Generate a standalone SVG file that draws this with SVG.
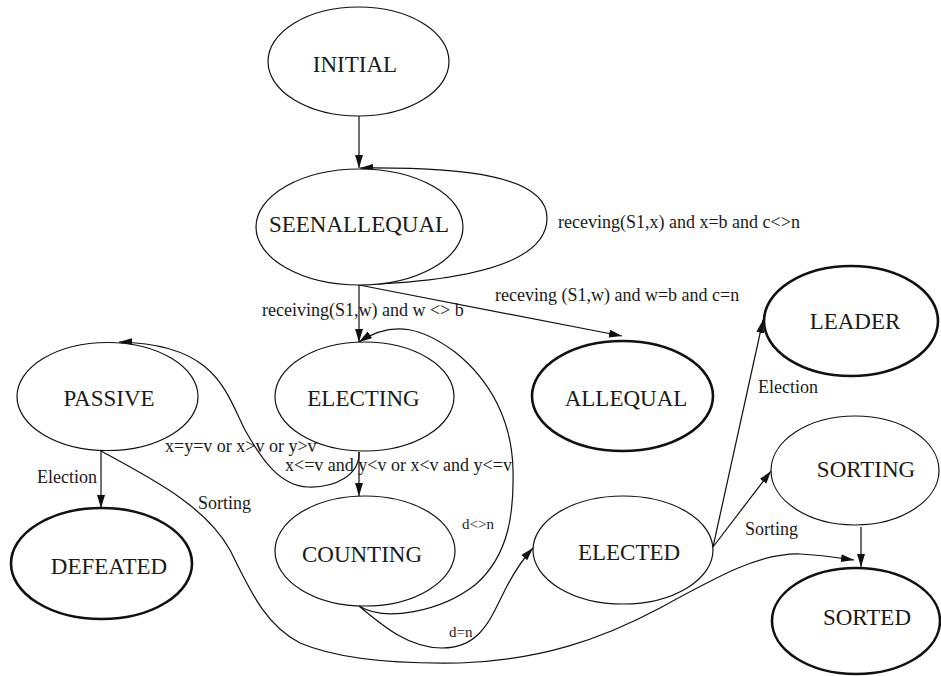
<svg xmlns="http://www.w3.org/2000/svg" width="941" height="676" viewBox="0 0 941 676">
<style>
.n{fill:#fff;stroke:#111;stroke-width:1.2}
.t{fill:#fff;stroke:#111;stroke-width:2.6}
.nt{font-family:"Liberation Serif","Times New Roman",serif;font-size:23px;fill:#1a1a1a;text-anchor:middle}
.e{fill:none;stroke:#111;stroke-width:1.2}
.l{font-family:"Liberation Serif","Times New Roman",serif;font-size:18px;fill:#1a1a1a}
.s{font-size:15px}
</style>
<defs>
<marker id="a" markerUnits="userSpaceOnUse" markerWidth="14" markerHeight="10" refX="13" refY="4" orient="auto">
<path d="M0,0 L13,4 L0,8 Z" fill="#111"/>
</marker>
</defs>
<rect width="941" height="676" fill="#fff"/>
<g id="edges">
<path class="e" marker-end="url(#a)" d="M359,116 L359,168"/>
<path class="e" marker-end="url(#a)" d="M359,285 C470,281 547,262 547,218 C547,176 465,167 360,168"/>
<path class="e" marker-end="url(#a)" d="M359,285 L359,342"/>
<path class="e" marker-end="url(#a)" d="M359,285 L622,336"/>
<path class="e" marker-end="url(#a)" d="M359,452 C360,475 335,488 308,487 C280,486 262,460 245,430 C225,390 215,344 119,342"/>
<path class="e" marker-end="url(#a)" d="M359,452 L359,496"/>
<path class="e" marker-end="url(#a)" d="M359,606 C385,622 440,612 475,585 C510,555 514,510 513,470 C512,420 490,380 455,352 C425,330 395,318 359,342"/>
<path class="e" marker-end="url(#a)" d="M359,606 C385,628 410,648 442,648 C480,648 490,620 505,590 C515,570 522,560 533,548"/>
<path class="e" marker-end="url(#a)" d="M101,451 L101,508"/>
<path class="e" marker-end="url(#a)" d="M101,451 C150,478 205,505 230,550 C250,590 265,625 300,643 C340,660 400,664 460,663 C540,660 600,640 660,608 C720,575 760,553 800,554 C820,555 840,558 854,560"/>
<path class="e" marker-end="url(#a)" d="M713,547 L763,320"/>
<path class="e" marker-end="url(#a)" d="M713,547 L771,471"/>
<path class="e" marker-end="url(#a)" d="M861,527 L861,567"/>
<text class="l" x="558" y="228">receving(S1,x) and x=b and c&lt;&gt;n</text>
<text class="l" x="262" y="316">receiving(S1,w) and w &lt;&gt; b</text>
<text class="l" x="495" y="301">receving (S1,w) and w=b and c=n</text>
<text class="l" x="165" y="452">x=y=v or x&gt;v or y&gt;v</text>
<text class="l" x="285" y="471">x&lt;=v and y&lt;v or x&lt;v and y&lt;=v</text>
<text class="l" x="37" y="483">Election</text>
<text class="l" x="198" y="509">Sorting</text>
<text class="l s" x="462" y="529">d&lt;&gt;n</text>
<text class="l s" x="449" y="637">d=n</text>
<text class="l" x="758" y="393">Election</text>
<text class="l" x="745" y="535">Sorting</text>
</g>
<g id="INITIAL"><ellipse class="n" cx="358.5" cy="61.5" rx="90.5" ry="54.5"/><text class="nt" x="355" y="72">INITIAL</text></g>
<g id="SEENALLEQUAL"><ellipse class="n" cx="359.5" cy="227" rx="103.5" ry="58"/><text class="nt" x="359" y="232">SEENALLEQUAL</text></g>
<g id="PASSIVE"><ellipse class="n" cx="107.5" cy="396.5" rx="90.5" ry="54"/><text class="nt" x="109" y="406">PASSIVE</text></g>
<g id="ELECTING"><ellipse class="n" cx="364.5" cy="396.5" rx="89.5" ry="54.5"/><text class="nt" x="363.5" y="406">ELECTING</text></g>
<g id="ALLEQUAL"><ellipse class="t" cx="622.5" cy="396" rx="90.5" ry="55"/><text class="nt" x="626" y="406">ALLEQUAL</text></g>
<g id="LEADER"><ellipse class="t" cx="851" cy="321" rx="87" ry="55"/><text class="nt" x="855" y="329">LEADER</text></g>
<g id="SORTING"><ellipse class="n" cx="855" cy="470.5" rx="84" ry="54.5"/><text class="nt" x="866" y="477">SORTING</text></g>
<g id="COUNTING"><ellipse class="n" cx="365" cy="551" rx="90" ry="55"/><text class="nt" x="362" y="562">COUNTING</text></g>
<g id="DEFEATED"><ellipse class="t" cx="101.5" cy="563.5" rx="90.5" ry="55.5"/><text class="nt" x="109" y="574">DEFEATED</text></g>
<g id="ELECTED"><ellipse class="n" cx="623" cy="550" rx="90" ry="54"/><text class="nt" x="629" y="560">ELECTED</text></g>
<g id="SORTED"><ellipse class="t" cx="856" cy="621" rx="84" ry="53"/><text class="nt" x="867" y="625">SORTED</text></g>
</svg>
